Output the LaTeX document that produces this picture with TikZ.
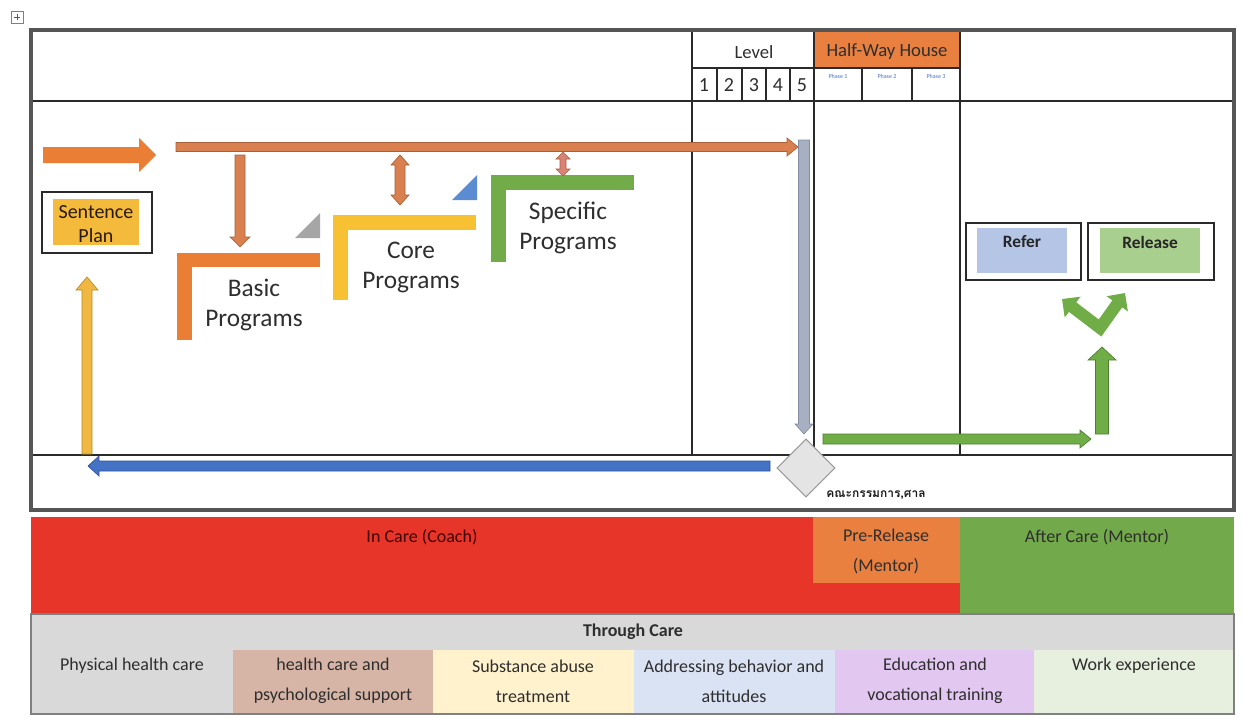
\documentclass[tikz,border=0pt]{standalone}
\usepackage{fontspec}
\setmainfont{Carlito}
\newfontfamily\thaifont[Script=Thai]{Loma}
\usetikzlibrary{shapes.geometric,arrows.meta}
\definecolor{framec}{HTML}{555555}
\definecolor{gridc}{HTML}{2A2A2A}
\definecolor{txtc}{HTML}{2E2E2E}
\definecolor{hwh}{HTML}{E9803F}
\definecolor{spy}{HTML}{F3BA3C}
\definecolor{referc}{HTML}{B4C5E6}
\definecolor{releasec}{HTML}{A9CF8E}
\definecolor{basicc}{HTML}{E97E34}
\definecolor{corec}{HTML}{F8C133}
\definecolor{specc}{HTML}{72AC48}
\definecolor{tri1}{HTML}{A6A6A6}
\definecolor{tri2}{HTML}{5B8BD0}
\definecolor{lineor}{HTML}{D9804E}
\definecolor{lineorD}{HTML}{A8603A}
\definecolor{pinkor}{HTML}{D98378}
\definecolor{greyar}{HTML}{A7AFC2}
\definecolor{greyarD}{HTML}{848DA2}
\definecolor{bluear}{HTML}{4472C4}
\definecolor{bluearD}{HTML}{2F5597}
\definecolor{yelar}{HTML}{F0B842}
\definecolor{yelarD}{HTML}{B98A2A}
\definecolor{grn}{HTML}{70AD47}
\definecolor{grnD}{HTML}{4F7E32}
\definecolor{diamf}{HTML}{E4E4E4}
\definecolor{diamd}{HTML}{9A9A9A}
\definecolor{incare}{HTML}{E8352A}
\definecolor{prerel}{HTML}{E9803F}
\definecolor{afterc}{HTML}{72A94A}
\definecolor{tcgrey}{HTML}{D9D9D9}
\definecolor{celltan}{HTML}{D6B4A6}
\definecolor{cellcream}{HTML}{FFF2CC}
\definecolor{cellblue}{HTML}{DAE3F3}
\definecolor{celllilac}{HTML}{E2C7F0}
\definecolor{cellgreen}{HTML}{E7F0DE}
\definecolor{phasec}{HTML}{4472C4}
% horizontal block arrow: style, x tail, x tip, y, shaft half, head half, head length (signed)
\newcommand{\HArrow}[7]{\filldraw[#1] (#2,{#4-#5}) -- ({#3-(#7)},{#4-#5}) -- ({#3-(#7)},{#4-#6}) -- (#3,#4) -- ({#3-(#7)},{#4+#6}) -- ({#3-(#7)},{#4+#5}) -- (#2,{#4+#5}) -- cycle;}
% vertical block arrow: style, y tail, y tip, x, shaft half, head half, head length (signed)
\newcommand{\VArrow}[7]{\filldraw[#1] ({#4-#5},#2) -- ({#4-#5},{#3-(#7)}) -- ({#4-#6},{#3-(#7)}) -- (#4,#3) -- ({#4+#6},{#3-(#7)}) -- ({#4+#5},{#3-(#7)}) -- ({#4+#5},#2) -- cycle;}
% vertical double arrow: style, y top, y bottom, x, shaft half, head half, head length
\newcommand{\VDArrow}[7]{\filldraw[#1] (#4,#2) -- ({#4+#6},{#2+#7}) -- ({#4+#5},{#2+#7}) -- ({#4+#5},{#3-#7}) -- ({#4+#6},{#3-#7}) -- (#4,#3) -- ({#4-#6},{#3-#7}) -- ({#4-#5},{#3-#7}) -- ({#4-#5},{#2+#7}) -- ({#4-#6},{#2+#7}) -- cycle;}
\begin{document}
\begin{tikzpicture}[x=0.75pt,y=-0.75pt,
  txt/.style={inner sep=0pt, align=center, text=txtc},
  hdr/.style={txt, font=\fontsize{14}{16}\selectfont},
  prog/.style={txt, font=\fontsize{19}{22.5}\selectfont},
  band/.style={txt, font=\fontsize{13.5}{22.5}\selectfont},
  gridline/.style={draw=gridc, line width=0.9pt},
  boxline/.style={draw=gridc, line width=1pt},
  arr/.style={line width=0.5pt}]
\useasboundingbox (0,0) rectangle (1244,717);
\fill[white] (0,0) rectangle (1244,717);

% plus icon
\draw[gray, line width=0.6pt] (11,11) rectangle (23,23);
\draw[gray!70!black, line width=0.7pt] (14,17) -- (20,17) (17,14) -- (17,20);

% header fills
\fill[hwh] (814,32) rectangle (960,68);

% grid lines
\draw[gridline] (31,101) -- (1234,101);
\draw[gridline] (31,455) -- (1234,455);
\draw[gridline] (692,30) -- (692,455);
\draw[gridline] (814,30) -- (814,455);
\draw[gridline] (960,30) -- (960,455);
\draw[gridline] (692,68) -- (960,68);
\foreach \xx in {717,742,766,790,862,912} \draw[gridline] (\xx,68) -- (\xx,101);

\node[hdr] (level) at (754,52) {Level};
\node[hdr] (hwhouse) at (887,52) {Half-Way House};
\foreach \xx/\nn [count=\i] in {704/1,729/2,754/3,778/4,802/5}
  \node[txt, font=\fontsize{15}{16}\selectfont] (lv\i) at (\xx,85) {\nn};
\node[txt, text=phasec, font=\fontsize{4.5}{5}\selectfont] (ph1) at (838,76) {Phase 1};
\node[txt, text=phasec, font=\fontsize{4.5}{5}\selectfont] (ph2) at (887,76) {Phase 2};
\node[txt, text=phasec, font=\fontsize{4.5}{5}\selectfont] (ph3) at (936,76) {Phase 3};

% sentence plan
\draw[boxline] (42,192) rectangle (152,253);
\fill[spy] (53,199) rectangle (139,245);
\node[txt, font=\fontsize{15}{18}\selectfont, text=black!80!brown] (sp) at (96,224) {Sentence\\Plan};

% programs
\fill[basicc] (177,253) rectangle (320,267);
\fill[basicc] (177,253) rectangle (192,340);
\node[prog] (basic) at (254,305) {Basic\\Programs};
\fill[tri1] (295,238) -- (320,238) -- (320,213) -- cycle;

\fill[corec] (333,215) rectangle (476,230);
\fill[corec] (333,215) rectangle (348,300);
\node[prog] (core) at (411,267) {Core\\Programs};
\fill[tri2] (452,200) -- (477,200) -- (477,175) -- cycle;

\fill[specc] (491,175) rectangle (634,190);
\fill[specc] (491,175) rectangle (506,262);
\node[prog] (spec) at (568,228) {Specific\\Programs};

% refer / release
\draw[boxline] (966,223) rectangle (1081,280);
\fill[referc] (977,228) rectangle (1067,273);
\node[txt, font=\bfseries\fontsize{13}{15}\selectfont, text=black!85] (refer) at (1022,242) {Refer};
\draw[boxline] (1088,223) rectangle (1214,280);
\fill[releasec] (1100,228) rectangle (1200,273);
\node[txt, font=\bfseries\fontsize{13}{15}\selectfont, text=black!85] (release) at (1150,242) {Release};

% arrows
\HArrow{fill=basicc, draw=none}{43}{156}{155}{8}{17}{17}
\HArrow{fill=lineor, draw=lineorD, arr}{176}{798}{147}{4.5}{9}{11}
\VArrow{fill=lineor, draw=lineorD, arr}{155}{247}{240}{5}{10}{10}
\VDArrow{fill=lineor, draw=lineorD, arr}{155}{205}{400}{5}{9}{10}
\VDArrow{fill=pinkor, draw=lineorD, arr}{152}{176}{563}{3}{7}{7}
\VArrow{fill=greyar, draw=greyarD, arr}{140}{434}{804}{5.5}{9}{10}
\HArrow{fill=bluear, draw=bluearD, arr}{770}{88}{466}{5}{10}{-11}
\VArrow{fill=yelar, draw=yelarD, arr}{454}{277}{87}{5}{11}{-13}
\HArrow{fill=grn, draw=grnD, arr}{823}{1091}{439}{5}{9}{11}
\VArrow{fill=grn, draw=grnD, arr}{434}{347}{1102}{6.5}{14}{-13}

% V-shaped split arrow towards Refer / Release
\coordinate (vl) at (1062,299);
\coordinate (vc) at (1100,328);
\coordinate (vr) at (1125,293);
\draw[grn, line width=9pt, line join=miter,
  {Triangle[length=10pt,width=19pt]}-{Triangle[length=10pt,width=19pt]}]
  (vl) -- (vc) -- (vr);

% board diamond
\node[diamond, aspect=1, draw=diamd, fill=diamf, line width=0.8pt, minimum width=43.5pt, minimum height=43.5pt, inner sep=0pt] (board) at (806,468) {};
\node[inner sep=0pt, font=\thaifont\bfseries\fontsize{9}{10}\selectfont, text=black!90] (boardlbl) at (876,495) {คณะกรรมการ,ศาล};

% outer frame
\draw[framec, line width=3pt] (31,30) rectangle (1234,510);

% care bands
\fill[incare] (31,517) rectangle (960,614);
\fill[prerel] (813,517) rectangle (960,583);
\fill[afterc] (960,517) rectangle (1234,614);
\node[band, text=black!75!red] (incaret) at (422,537) {In Care (Coach)};
\node[band] (prerelt) at (886,551) {Pre-Release\\(Mentor)};
\node[band] (aftert) at (1097,537) {After Care (Mentor)};

% through care table
\fill[tcgrey] (31,614) rectangle (1234,714);
\fill[celltan] (233,650) rectangle (433,714);
\fill[cellcream] (433,650) rectangle (634,714);
\fill[cellblue] (634,650) rectangle (835,714);
\fill[celllilac] (835,650) rectangle (1034,714);
\fill[cellgreen] (1034,650) rectangle (1233,714);
\draw[gray, line width=0.8pt] (31,614) rectangle (1234,714);
\node[txt, font=\bfseries\fontsize{13.5}{16}\selectfont] (through) at (633,632) {Through Care};
\node[band] (c1) at (132,666) {Physical health care};
\node[band] (c2) at (333,681) {health care and\\psychological support};
\node[band] (c3) at (533,681) {Substance abuse\\treatment};
\node[band] (c4) at (734,681) {Addressing behavior and\\attitudes};
\node[band] (c5) at (935,681) {Education and\\vocational training};
\node[band] (c6) at (1134,666) {Work experience};
\end{tikzpicture}
\end{document}
